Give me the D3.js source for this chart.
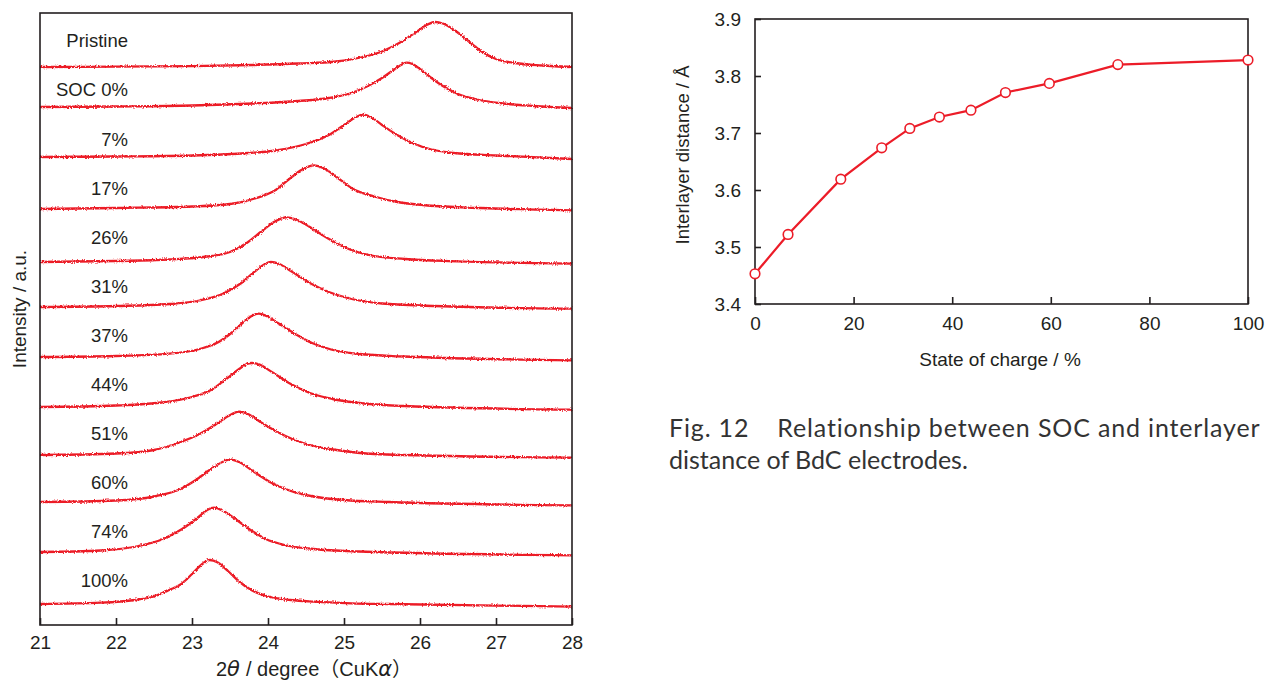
<!DOCTYPE html>
<html>
<head>
<meta charset="utf-8">
<script src="https://cdn.jsdelivr.net/npm/d3@7"></script>
<style>
  html, body { margin: 0; padding: 0; background: #fff; }
  svg { display: block; }
  text { font-family: "Liberation Sans", Arial, Helvetica, sans-serif; fill: #231f20; }
  .caption { font-family: Lato, "Open Sans", sans-serif; fill: #333; }
</style>
</head>
<body>
<svg id="fig" width="1273" height="682"></svg>
<script>
// ---------- XRD patterns (stacked, top to bottom) ----------
const xrdLabels = ["Pristine", "SOC 0%", "7%", "17%", "26%", "31%", "37%", "44%", "51%", "60%", "74%", "100%"];
// vertical stacking offset of each pattern (a.u.)
const xrdOffsets = [558, 518, 468, 416, 363, 318, 268, 218, 170, 123, 73, 21];
// [2θ (deg), intensity above offset (a.u.)]
const xrdPristine = [[21,0],[22,0.3],[23,0.8],[23.8,2],[24.4,3.5],[24.9,5.5],[25.25,10],[25.5,15.5],[25.75,25],[25.95,35],[26.1,42.5],[26.2,45],[26.3,43.5],[26.45,37],[26.62,27],[26.8,16],[27.0,8],[27.25,4],[27.6,1.5],[28,0]];
const xrdSoc0     = [[21,0],[22,0.5],[23,1.5],[23.8,3.5],[24.4,6],[24.8,9],[25.1,14],[25.3,20.5],[25.5,29],[25.65,37],[25.75,42],[25.82,44.3],[25.9,43],[26.0,38],[26.15,29],[26.3,21],[26.5,13],[26.75,7.5],[27.1,3.5],[27.5,1],[28,-1]];
const xrdSoc7     = [[21,0],[22,0.5],[23,1.5],[23.65,3.5],[24.15,7],[24.5,13],[24.8,22],[25.0,32],[25.15,39.5],[25.25,42.3],[25.35,40],[25.5,32],[25.7,22],[25.9,14],[26.15,7.5],[26.45,4],[27,1.5],[28,-2]];
const xrdSoc17    = [[21,0],[22,1],[23,2.5],[23.5,5],[23.85,11],[24.1,19],[24.28,30],[24.45,39.5],[24.6,43.7],[24.74,40.5],[24.92,31],[25.12,20],[25.4,12.5],[25.7,7],[26.1,3.5],[26.8,1],[28,-1.3]];
const xrdSoc26    = [[21,0],[22,1],[22.7,2.5],[23.2,5.5],[23.5,10],[23.72,19],[23.92,31],[24.09,40.5],[24.24,44.7],[24.37,42.5],[24.55,35],[24.78,24],[25.03,14],[25.33,7],[25.8,3],[26.5,0.7],[28,-1.7]];
const xrdSoc31    = [[21,0],[22,1],[22.7,3],[23.1,6.5],[23.4,13],[23.65,24],[23.85,37],[23.96,43],[24.04,45],[24.15,43],[24.3,36],[24.55,24],[24.8,15],[25.05,9],[25.5,3.5],[26.2,1],[28,-1.7]];
const xrdSoc37    = [[21,0],[22,1],[22.7,3.3],[23.1,8],[23.35,15],[23.55,26],[23.71,37],[23.81,42],[23.88,43.3],[23.98,41],[24.13,34],[24.36,23],[24.58,14],[24.83,7.5],[25.2,3],[25.8,0.5],[28,-3.3]];
const xrdSoc44    = [[21,0],[22,1.5],[22.6,4.5],[23.0,10],[23.25,17],[23.45,28],[23.62,38],[23.72,43],[23.79,44],[23.89,42.5],[24.05,35],[24.3,23],[24.55,14],[24.85,8],[25.2,4],[25.8,1],[28,-2.7]];
const xrdSoc51    = [[21,0],[22,1.5],[22.5,5],[22.85,13],[23.1,21],[23.3,30],[23.48,39],[23.62,43.3],[23.75,40.5],[23.9,33],[24.1,24],[24.35,15],[24.6,9],[24.9,5],[25.4,1],[28,-2.7]];
const xrdSoc60    = [[21,0],[22,1.5],[22.5,5.5],[22.85,13],[23.05,22],[23.25,33],[23.4,40],[23.5,42.7],[23.62,40],[23.8,31],[24.05,19],[24.3,11],[24.6,5.5],[25,2],[25.6,0],[28,-3.3]];
const xrdSoc74    = [[21,0],[21.8,1.5],[22.3,6],[22.62,13],[22.87,23],[23.07,34],[23.2,42],[23.29,44.3],[23.4,41.5],[23.57,33],[23.77,22],[23.97,13],[24.22,7],[24.6,3],[25.2,0.5],[28,-3.3]];
const xrdSoc100   = [[21,0],[21.8,1.3],[22.25,4],[22.5,7.5],[22.7,14],[22.86,20],[23.0,30],[23.12,39],[23.23,44],[23.34,41.5],[23.48,32.5],[23.62,22.5],[23.78,14],[24.0,7.5],[24.3,4],[24.6,2.3],[25.1,0.7],[25.6,0],[28,-2.7]];
const xrdProfiles = [xrdPristine, xrdSoc0, xrdSoc7, xrdSoc17, xrdSoc26, xrdSoc31, xrdSoc37, xrdSoc44, xrdSoc51, xrdSoc60, xrdSoc74, xrdSoc100];
const thetaTicks = [21, 22, 23, 24, 25, 26, 27, 28];

// ---------- Interlayer distance vs. SOC ----------
const socValues = [0, 6.7, 17.4, 25.7, 31.4, 37.4, 43.8, 50.8, 59.7, 73.6, 100];
const distValues = [3.453, 3.522, 3.619, 3.674, 3.708, 3.728, 3.740, 3.771, 3.787, 3.820, 3.828];
const socTicks = [0, 20, 40, 60, 80, 100];
const distTicks = [3.4, 3.5, 3.6, 3.7, 3.8, 3.9];

const RED = "#ec1c28";
const INK = "#231f20";
const FS = 19;
const svg = d3.select("#fig");

// jagged, noisy look of the measured XRD traces
const defs = svg.append("defs");
const noise = defs.append("filter").attr("id", "noisy")
  .attr("filterUnits", "userSpaceOnUse")
  .attr("x", 0).attr("y", 0).attr("width", 1273).attr("height", 682);
noise.append("feTurbulence").attr("type", "fractalNoise")
  .attr("baseFrequency", "0.9 0.6").attr("numOctaves", 2).attr("seed", 7).attr("result", "t");
noise.append("feDisplacementMap").attr("in", "SourceGraphic").attr("in2", "t")
  .attr("scale", 3.2).attr("xChannelSelector", "R").attr("yChannelSelector", "G");

// ===== Left panel: stacked XRD patterns =====
const L = { x0: 40, x1: 572, y0: 13, y1: 625 };
const xL = d3.scaleLinear().domain([21, 28]).range([L.x0, L.x1]);
const yL = d3.scaleLinear().domain([0, 612]).range([L.y1, L.y0]);

const left = svg.append("g");
const traces = left.append("g").attr("filter", "url(#noisy)");
xrdProfiles.forEach((prof, i) => {
  const off = xrdOffsets[i];
  const line = d3.line()
    .x(d => xL(d[0]))
    .y(d => yL(off + d[1]))
    .curve(d3.curveMonotoneX);
  traces.append("path")
    .attr("d", line(prof))
    .attr("fill", "none")
    .attr("stroke", RED)
    .attr("stroke-width", 2.3)
    .attr("stroke-linejoin", "round");
});

// labels of each pattern, evenly spaced down the panel
left.append("g").selectAll("text")
  .data(xrdLabels)
  .join("text")
  .attr("x", 128)
  .attr("y", (d, i) => 40.7 + 49.1 * i)
  .attr("dy", "0.36em")
  .attr("text-anchor", "end")
  .attr("font-size", 18.5)
  .text(d => d);

// frame
left.append("rect")
  .attr("x", L.x0).attr("y", L.y0)
  .attr("width", L.x1 - L.x0).attr("height", L.y1 - L.y0)
  .attr("fill", "none").attr("stroke", INK).attr("stroke-width", 1.6);

// bottom axis with inward ticks
const axL = left.append("g").attr("transform", `translate(0,${L.y1})`)
  .call(d3.axisBottom(xL).tickValues(thetaTicks).tickSizeInner(-7).tickSizeOuter(0).tickPadding(11)
    .tickFormat(d3.format("d")));
axL.select(".domain").remove();
axL.selectAll("line").attr("stroke", INK).attr("stroke-width", 1.6);
axL.selectAll("text").attr("font-size", FS).attr("fill", INK)
  .attr("font-family", "Liberation Sans, Arial, sans-serif");

// axis titles
const xt = left.append("text").attr("x", 314).attr("y", 676)
  .attr("text-anchor", "middle").attr("font-size", 20);
xt.append("tspan").text("2");
xt.append("tspan").attr("font-style", "italic").attr("font-family", "DejaVu Sans").attr("font-size", 21).text("θ");
xt.append("tspan").attr("dx", 6).text("/ degree");
xt.append("tspan").attr("font-family", "Noto Sans CJK JP").text("（");
xt.append("tspan").text("CuK");
xt.append("tspan").attr("font-style", "italic").attr("font-family", "DejaVu Sans").attr("font-size", 21).text("α");
xt.append("tspan").attr("font-family", "Noto Sans CJK JP").text("）");

left.append("text")
  .attr("transform", "translate(26,309) rotate(-90)")
  .attr("text-anchor", "middle").attr("font-size", FS)
  .text("Intensity / a.u.");

// ===== Right panel: interlayer distance vs SOC =====
const R = { x0: 755, x1: 1248, y0: 19, y1: 304 };
const xR = d3.scaleLinear().domain([0, 100]).range([R.x0, R.x1]);
const yR = d3.scaleLinear().domain([3.4, 3.9]).range([R.y1, R.y0]);
const right = svg.append("g");

right.append("rect")
  .attr("x", R.x0).attr("y", R.y0)
  .attr("width", R.x1 - R.x0).attr("height", R.y1 - R.y0)
  .attr("fill", "none").attr("stroke", INK).attr("stroke-width", 1.6);

const axRx = right.append("g").attr("transform", `translate(0,${R.y1})`)
  .call(d3.axisBottom(xR).tickValues(socTicks).tickSizeInner(-7).tickSizeOuter(0).tickPadding(13)
    .tickFormat(d3.format("d")));
axRx.select(".domain").remove();
axRx.selectAll("line").attr("stroke", INK).attr("stroke-width", 1.6);
axRx.selectAll("text").attr("font-size", FS).attr("fill", INK)
  .attr("font-family", "Liberation Sans, Arial, sans-serif");

const axRy = right.append("g").attr("transform", `translate(${R.x0},0)`)
  .call(d3.axisLeft(yR).tickValues(distTicks).tickSizeInner(-6).tickSizeOuter(0).tickPadding(14)
    .tickFormat(d3.format(".1f")));
axRy.select(".domain").remove();
axRy.selectAll("line").attr("stroke", INK).attr("stroke-width", 1.6);
axRy.selectAll("text").attr("font-size", FS).attr("fill", INK)
  .attr("font-family", "Liberation Sans, Arial, sans-serif");

const pts = socValues.map((s, i) => [s, distValues[i]]);
right.append("path")
  .attr("d", d3.line().x(d => xR(d[0])).y(d => yR(d[1]))(pts))
  .attr("fill", "none").attr("stroke", RED).attr("stroke-width", 2.2);
right.append("g").selectAll("circle")
  .data(pts).join("circle")
  .attr("cx", d => xR(d[0])).attr("cy", d => yR(d[1])).attr("r", 4.8)
  .attr("fill", "#fff").attr("stroke", RED).attr("stroke-width", 1.6);

right.append("text").attr("x", 1000).attr("y", 366)
  .attr("text-anchor", "middle").attr("font-size", FS)
  .text("State of charge / %");
right.append("text")
  .attr("transform", "translate(689,155) rotate(-90)")
  .attr("text-anchor", "middle").attr("font-size", 18.5)
  .text("Interlayer distance / Å");

// ===== Caption (first line spread to the column width by letter spacing) =====
const CAP_X = 669, CAP_W = 591, CAP_GAP = 28;
const cap = svg.append("g");
const line1 = cap.append("text").attr("class", "caption")
  .attr("x", CAP_X).attr("y", 437).attr("font-size", 25);
line1.append("tspan").text("Fig. 12");
line1.append("tspan").attr("dx", CAP_GAP).text("Relationship between SOC and interlayer");
const natural = line1.node().getComputedTextLength() + CAP_GAP;
const nChars = line1.text().length;
line1.attr("letter-spacing", Math.max(0, (CAP_W - natural) / (nChars - 1)));
cap.append("text").attr("class", "caption")
  .attr("x", CAP_X).attr("y", 469).attr("font-size", 25)
  .text("distance of BdC electrodes.");
</script>
</body>
</html>
